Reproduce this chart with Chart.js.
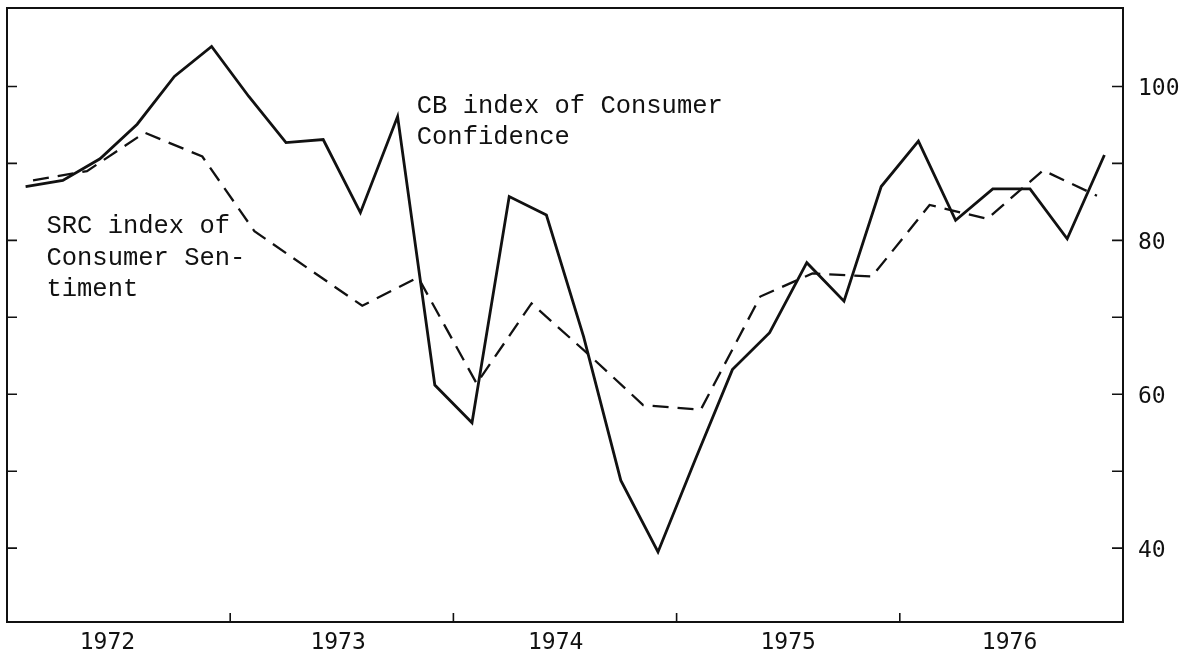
<!DOCTYPE html>
<html>
<head>
<meta charset="utf-8">
<script src="https://cdn.jsdelivr.net/npm/chart.js@4.4.1/dist/chart.umd.min.js"></script>
<style>
  html, body { margin: 0; padding: 0; background: #fff; }
</style>
</head>
<body>
<canvas id="myChart" width="1191" height="658"></canvas>
<script>
// months counted from Jan 1972 (0) to end of 1976 (60)
const cbMonths = [1, 3, 5, 7, 9, 11, 13, 15, 17, 19, 21, 23, 25, 27, 29,
                  31, 33, 35, 37, 39, 41, 43, 45, 47, 49, 51, 53, 55, 57, 59];
const cbValues = [87.0, 87.8, 90.6, 95.1, 101.3, 105.2, 98.7, 92.7, 93.1, 83.6,
                  96.1, 61.2, 56.3, 85.7, 83.3, 67.5, 48.8, 39.5, 51.5, 63.2,
                  68.0, 77.1, 72.1, 87.0, 92.9, 82.6, 86.7, 86.7, 80.2, 91.1];

const srcMonths = [1.4, 4.3, 7.4, 10.5, 13.3, 16.4, 19.1, 22.1, 25.25, 28.2,
                   31.3, 34.2, 37.3, 40.5, 43.3, 46.5, 49.6, 52.7, 55.7, 58.6];
const srcValues = [87.8, 89.0, 94.0, 90.9, 81.2, 76.0, 71.5, 75.2, 61.4, 71.8,
                   65.1, 58.6, 58.0, 72.7, 75.7, 75.3, 84.6, 82.8, 89.1, 85.8];

const yearLabels = ['1972', '1973', '1974', '1975', '1976'];
const yearLabelMonths = [5.4, 17.8, 29.5, 42, 53.9];
const yearBoundaries = [12, 24, 36, 48];
const yTicks = [40, 50, 60, 70, 80, 90, 100];
const yLabels = [40, 60, 80, 100];

const ink = '#111';

// frame, inward tick marks and the two series labels
const framePlugin = {
  id: 'frame',
  afterDraw(chart) {
    const ctx = chart.ctx;
    const a = chart.chartArea;
    const x = chart.scales.x, y = chart.scales.y;
    ctx.save();
    ctx.strokeStyle = ink;
    ctx.lineWidth = 2;
    ctx.strokeRect(a.left, a.top, a.right - a.left, a.bottom - a.top);

    ctx.lineWidth = 1.6;
    ctx.beginPath();
    yTicks.forEach(v => {
      const py = y.getPixelForValue(v);
      ctx.moveTo(a.left, py); ctx.lineTo(a.left + 10, py);
      ctx.moveTo(a.right, py); ctx.lineTo(a.right - 11, py);
    });
    yearBoundaries.forEach(m => {
      const px = x.getPixelForValue(m);
      ctx.moveTo(px, a.bottom); ctx.lineTo(px, a.bottom - 9);
    });
    ctx.stroke();

    ctx.fillStyle = ink;
    ctx.font = '25.5px "Liberation Mono"';
    ctx.textBaseline = 'alphabetic';
    ctx.textAlign = 'left';
    let tx = x.getPixelForValue(22.03), ty = y.getPixelForValue(96.6);
    ctx.fillText('CB index of Consumer', tx, ty);
    ctx.fillText('Confidence', tx, ty + 31);

    tx = x.getPixelForValue(2.12); ty = y.getPixelForValue(80.9);
    ctx.fillText('SRC index of', tx, ty);
    ctx.fillText('Consumer Sen-', tx, ty + 32);
    ctx.fillText('timent', tx, ty + 63);
    ctx.restore();
  }
};

const ctx1 = document.getElementById('myChart').getContext('2d');
const graph = new Chart(ctx1, {
  type: 'line',
  data: {
    datasets: [{
      label: 'CB index of Consumer Confidence',
      data: cbMonths.map((m, i) => ({x: m, y: cbValues[i]})),
      borderColor: ink,
      borderWidth: 2.8,
      pointRadius: 0,
      tension: 0
    }, {
      label: 'SRC index of Consumer Sentiment',
      data: srcMonths.map((m, i) => ({x: m, y: srcValues[i]})),
      borderColor: ink,
      borderWidth: 2.3,
      borderDash: [16, 9],
      pointRadius: 0,
      tension: 0
    }]
  },
  options: {
    responsive: false,
    animation: false,
    devicePixelRatio: 1,
    layout: { autoPadding: false, padding: { left: 7, top: 8, right: 0, bottom: 0 } },
    plugins: {
      legend: { display: false },
      tooltip: { enabled: false }
    },
    scales: {
      x: {
        type: 'linear',
        position: 'bottom',
        min: 0,
        max: 60,
        grid: { display: false, drawTicks: false },
        border: { display: false },
        afterBuildTicks: s => { s.ticks = yearLabelMonths.map(v => ({value: v})); },
        afterFit: s => { s.height = 36; s.paddingLeft = 0; s.paddingRight = 0; },
        ticks: {
          autoSkip: false,
          maxRotation: 0,
          padding: 7,
          color: ink,
          font: { family: 'DejaVu Sans Mono', size: 23 },
          callback: (v, i) => yearLabels[i]
        }
      },
      y: {
        type: 'linear',
        position: 'right',
        min: 30.4,
        max: 110.2,
        grid: { display: false, drawTicks: false },
        border: { display: false },
        afterBuildTicks: s => { s.ticks = yTicks.map(v => ({value: v})); },
        afterFit: s => { s.width = 68; s.paddingTop = 0; s.paddingBottom = 0; },
        ticks: {
          autoSkip: false,
          padding: 15,
          labelOffset: 3,
          color: ink,
          font: { family: 'DejaVu Sans Mono', size: 23 },
          callback: v => yLabels.includes(v) ? String(v) : ''
        }
      }
    }
  },
  plugins: [framePlugin]
});
</script>
</body>
</html>
